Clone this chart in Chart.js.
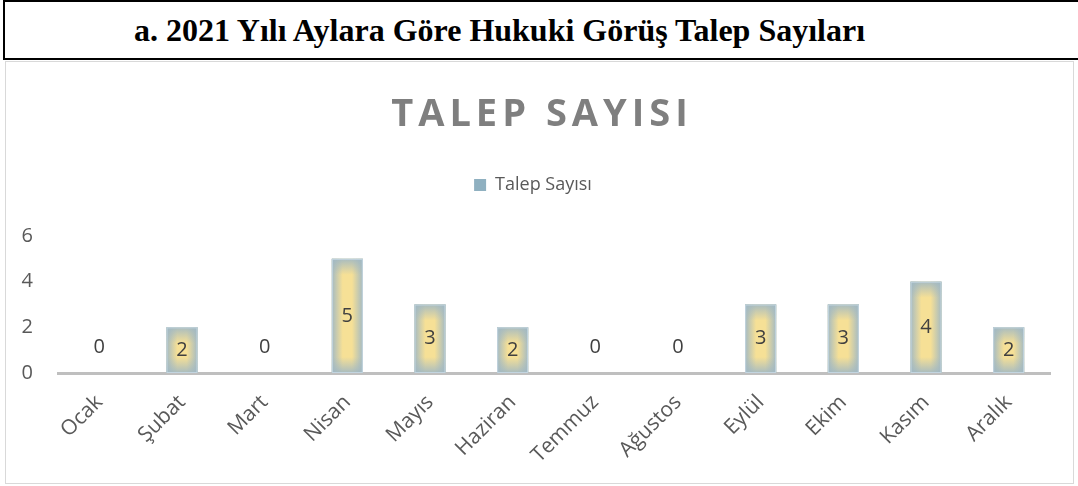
<!DOCTYPE html>
<html>
<head>
<meta charset="utf-8">
<script src="https://cdn.jsdelivr.net/npm/chart.js@4"></script>
<style>
  body { margin: 0; background: #fff; width: 1078px; height: 486px; overflow: hidden; }
  #head {
    position: absolute; left: 3px; top: 0; width: 1075px; height: 60px;
    border: 2px solid #000; border-right: none;
    font-family: "Liberation Serif", "Times New Roman", serif; font-weight: bold;
    font-size: 32px; line-height: 56px; padding-left: 129px; box-sizing: border-box;
  }
  #box {
    position: absolute; left: 5px; top: 61px; width: 1069px; height: 423px;
    border: 1px solid #d9d9d9; box-sizing: border-box;
  }
  #title {
    position: absolute; left: 0; right: 0; top: 23px; text-align: center;
    font-family: "Open Sans", "Noto Sans", sans-serif; font-weight: bold;
    font-size: 38px; letter-spacing: 5px; padding-left: 5px; color: #7f7f7f;
    line-height: 52px;
  }
  canvas { display: block; }
</style>
</head>
<body>
<div id="head">a. 2021 Yılı Aylara Göre Hukuki Görüş Talep Sayıları</div>
<div id="box">
  <canvas id="chart" width="1067" height="421"></canvas>
  <div id="title">TALEP SAYISI</div>
</div>
<script>
// aylar ve talep sayilari
const months = ['Ocak', 'Şubat', 'Mart', 'Nisan', 'Mayıs', 'Haziran', 'Temmuz', 'Ağustos', 'Eylül', 'Ekim', 'Kasım', 'Aralık'];
const requests = [0, 2, 0, 5, 3, 2, 0, 0, 3, 3, 4, 2];
const yTicks = [0, 2, 4, 6];

const textColor = '#595959';
const fontFamily = '"Open Sans", "Noto Sans", sans-serif';

// Excel tarzi gradyan dolgu (ortasi sari, kenarlari gri-mavi)
const gradientBars = {
    id: 'gradientBars',
    afterDatasetsDraw(chart) {
        const c = chart.ctx;
        chart.getDatasetMeta(0).data.forEach(el => {
            const w = el.width;
            const left = el.x - w / 2;
            const top = Math.min(el.y, el.base);
            const h = Math.abs(el.base - el.y);
            if (h < 1) return;
            c.save();
            c.fillStyle = '#f6e096';
            c.fillRect(left, top, w, h);
            let g = c.createLinearGradient(left, 0, left + w, 0);
            g.addColorStop(0, 'rgba(160,184,196,0.95)');
            g.addColorStop(0.35, 'rgba(160,184,196,0)');
            g.addColorStop(0.65, 'rgba(160,184,196,0)');
            g.addColorStop(1, 'rgba(160,184,196,0.95)');
            c.fillStyle = g;
            c.fillRect(left, top, w, h);
            const edge = Math.min(16, h / 2);
            g = c.createLinearGradient(0, top, 0, top + h);
            g.addColorStop(0, 'rgba(160,184,196,0.9)');
            g.addColorStop(edge / h, 'rgba(160,184,196,0)');
            g.addColorStop(1 - edge / h, 'rgba(160,184,196,0)');
            g.addColorStop(1, 'rgba(160,184,196,0.9)');
            c.fillStyle = g;
            c.fillRect(left, top, w, h);
            c.strokeStyle = '#c3d5e0';
            c.lineWidth = 1;
            c.strokeRect(left + 0.5, top + 0.5, w - 1, h - 1);
            c.restore();
        });
    }
};

// degerleri cubuklarin ortasina yaz
const valueLabels = {
    id: 'valueLabels',
    afterDatasetsDraw(chart) {
        const c = chart.ctx;
        const ds = chart.data.datasets[0];
        c.save();
        c.font = '20px ' + fontFamily;
        c.fillStyle = '#404040';
        c.textAlign = 'center';
        c.textBaseline = 'middle';
        chart.getDatasetMeta(0).data.forEach((el, i) => {
            const v = ds.data[i];
            const y = v === 0 ? el.base - 26 : (el.y + el.base) / 2;
            c.fillText(String(v), el.x, y);
        });
        c.restore();
    }
};

const ctx = document.getElementById('chart').getContext('2d');
const myChart = new Chart(ctx, {
    type: 'bar',
    data: {
        labels: months,
        datasets: [{
            label: 'Talep Sayısı',
            data: requests,
            backgroundColor: '#8fb0c0',
            borderWidth: 0,
            barPercentage: 0.375,
            categoryPercentage: 1
        }]
    },
    options: {
        responsive: false,
        animation: false,
        devicePixelRatio: 1,
        layout: { padding: { left: 10, right: 23, top: 104, bottom: 4 } },
        scales: {
            x: {
                grid: { display: false },
                border: { color: '#bfbfbf', width: 3 },
                afterFit: s => { s.height = 106; },
                ticks: {
                    color: textColor,
                    minRotation: 45, maxRotation: 45,
                    padding: 9,
                    font: { family: fontFamily, size: 21 }
                }
            },
            y: {
                min: 0, max: 6,
                afterBuildTicks: s => { s.ticks = yTicks.map(v => ({ value: v })); },
                afterFit: s => { s.width = 42; },
                grid: { display: false },
                border: { display: false },
                ticks: {
                    color: textColor,
                    padding: 17,
                    font: { family: fontFamily, size: 20 }
                }
            }
        },
        plugins: {
            title: { display: false },
            // legend ile grafik alani arasinda bos alan
            subtitle: {
                display: true,
                text: '',
                weight: 500,
                font: { size: 1, lineHeight: 1 },
                padding: { top: 0, bottom: 31 }
            },
            legend: {
                display: true,
                labels: {
                    color: textColor,
                    boxWidth: 12, boxHeight: 12,
                    padding: 10,
                    font: { family: fontFamily, size: 18 }
                }
            },
            tooltip: { enabled: false }
        }
    },
    plugins: [gradientBars, valueLabels]
});
</script>
</body>
</html>
